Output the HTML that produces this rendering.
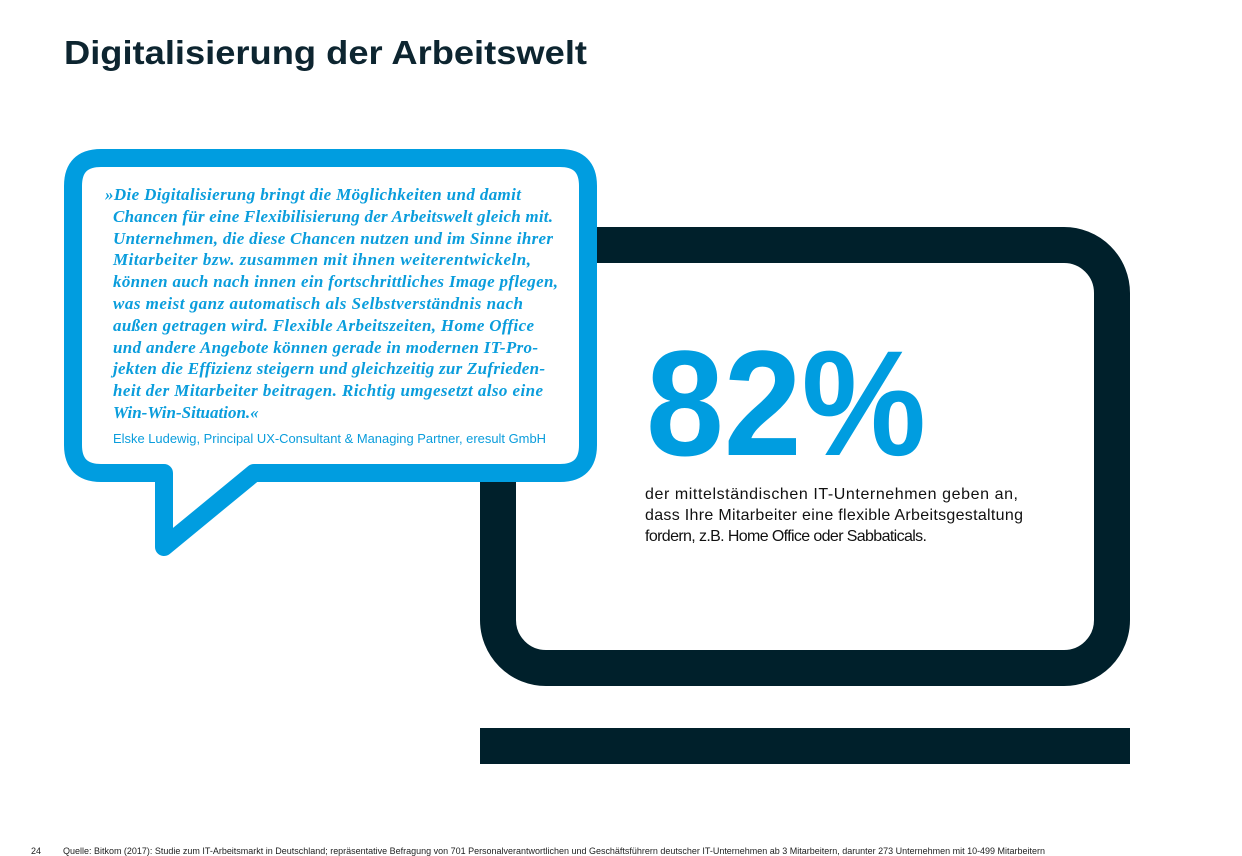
<!DOCTYPE html>
<html><head><meta charset="utf-8"><style>
html,body{margin:0;padding:0;background:#fff;}
svg{display:block}
</style></head><body>
<svg width="1242" height="856" viewBox="0 0 1242 856" xmlns="http://www.w3.org/2000/svg">
<text x="64" y="64" font-family="Liberation Sans, sans-serif" font-weight="bold" font-size="33" fill="#0d2530" textLength="523" lengthAdjust="spacingAndGlyphs">Digitalisierung der Arbeitswelt</text>

<g>
<rect x="498" y="245" width="614" height="423" rx="48" fill="#fff" stroke="#00202b" stroke-width="36"/>
<rect x="480" y="728" width="650" height="36" fill="#00202b"/>
</g>

<path d="M101,158 H560 Q588,158 588,186 V445 Q588,473 560,473 H254 L164,547 V473 H101 Q73,473 73,445 V186 Q73,158 101,158 Z" fill="#fff" stroke="#009de0" stroke-width="18" stroke-linejoin="round"/>

<g font-family="Liberation Serif, serif" font-style="italic" font-weight="bold" font-size="17" fill="#0a9ddc" lengthAdjust="spacingAndGlyphs">
<text x="105" y="200" textLength="416">»Die Digitalisierung bringt die Möglichkeiten und damit</text>
<text x="113" y="222" textLength="440">Chancen für eine Flexibilisierung der Arbeitswelt gleich mit.</text>
<text x="113" y="244" textLength="440">Unternehmen, die diese Chancen nutzen und im Sinne ihrer</text>
<text x="113" y="265" textLength="418">Mitarbeiter bzw. zusammen mit ihnen weiterentwickeln,</text>
<text x="113" y="287" textLength="445">können auch nach innen ein fortschrittliches Image pflegen,</text>
<text x="113" y="309" textLength="410">was meist ganz automatisch als Selbstverständnis nach</text>
<text x="113" y="331" textLength="421">außen getragen wird. Flexible Arbeitszeiten, Home Office</text>
<text x="113" y="353" textLength="425">und andere Angebote können gerade in modernen IT-Pro-</text>
<text x="113" y="374" textLength="432">jekten die Effizienz steigern und gleichzeitig zur Zufrieden-</text>
<text x="113" y="396" textLength="430">heit der Mitarbeiter beitragen. Richtig umgesetzt also eine</text>
<text x="113" y="418">Win-Win-Situation.«</text>
</g>
<text x="113" y="443" font-family="Liberation Sans, sans-serif" font-size="13" fill="#0a9ddc" textLength="433" lengthAdjust="spacingAndGlyphs">Elske Ludewig, Principal UX-Consultant &amp; Managing Partner, eresult GmbH</text>

<text x="646" y="455" font-family="Liberation Sans, sans-serif" font-weight="bold" font-size="150" fill="#009de0" textLength="280" lengthAdjust="spacingAndGlyphs">82%</text>
<g font-family="Liberation Sans, sans-serif" font-size="16" fill="#111" lengthAdjust="spacingAndGlyphs">
<text x="645" y="499" textLength="373">der mittelständischen IT-Unternehmen geben an,</text>
<text x="645" y="520" textLength="378">dass Ihre Mitarbeiter eine flexible Arbeitsgestaltung</text>
<text x="645" y="541" textLength="282">fordern, z.B. Home Office oder Sabbaticals.</text>
</g>

<text x="31" y="854" font-family="Liberation Sans, sans-serif" font-size="9" fill="#222">24</text>
<text x="63" y="854" font-family="Liberation Sans, sans-serif" font-size="9" fill="#222" textLength="982" lengthAdjust="spacingAndGlyphs">Quelle: Bitkom (2017): Studie zum IT-Arbeitsmarkt in Deutschland; repräsentative Befragung von 701 Personalverantwortlichen und Geschäftsführern deutscher IT-Unternehmen ab 3 Mitarbeitern, darunter 273 Unternehmen mit 10-499 Mitarbeitern</text>
</svg>
</body></html>
